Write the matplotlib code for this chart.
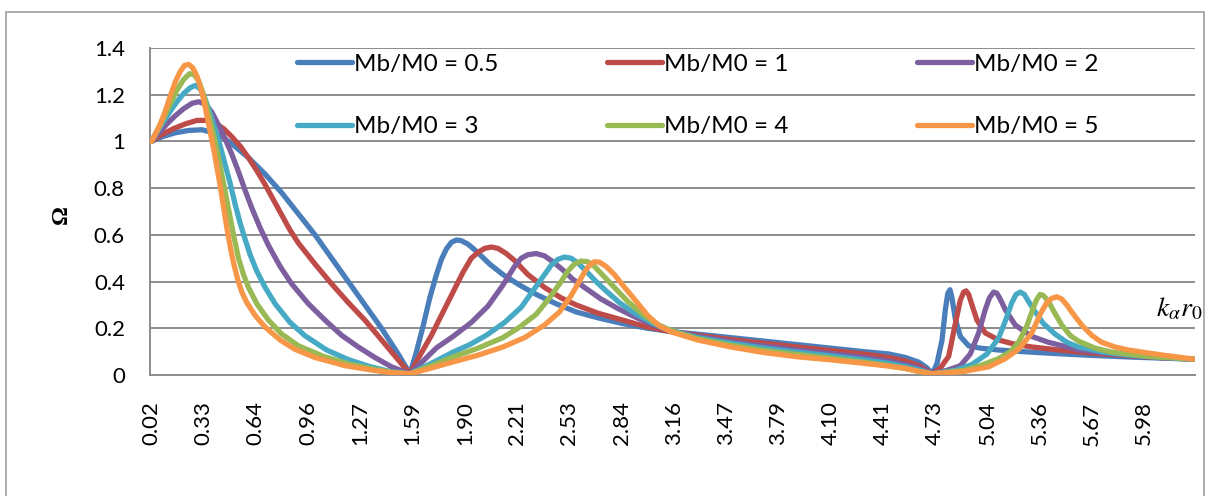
import numpy as np
import matplotlib
matplotlib.use("Agg")
import matplotlib.pyplot as plt
from matplotlib.lines import Line2D
from matplotlib.patches import Rectangle

# ---- data: Omega versus k_alpha * r0 for several mass ratios ----
x_05 = [0.016, 0.08, 0.16, 0.24, 0.32, 0.40, 0.45, 0.50, 0.55, 0.60, 0.65, 0.70, 0.80, 0.90, 1.00, 1.10, 1.20, 1.30, 1.40, 1.50, 1.571,
        1.61, 1.65, 1.69, 1.73, 1.76, 1.79, 1.82, 1.85, 1.88, 1.92, 1.97, 2.05, 2.13, 2.23, 2.33, 2.45, 2.57, 2.70, 2.85, 3.00, 3.14,
        3.30, 3.50, 3.70, 3.90, 4.10, 4.30, 4.45, 4.55, 4.63, 4.68, 4.712,
        4.74, 4.77, 4.79, 4.805, 4.818, 4.83, 4.85, 4.88, 4.93, 5.00, 5.11, 5.30, 5.50, 5.70, 5.90, 6.10, 6.283]
y_05 = [1.00, 1.02, 1.037, 1.047, 1.05, 1.035, 1.015, 0.99, 0.96, 0.93, 0.895, 0.86, 0.78, 0.69, 0.60, 0.50, 0.40, 0.30, 0.20, 0.09, 0.005,
        0.10, 0.21, 0.33, 0.43, 0.495, 0.54, 0.568, 0.578, 0.575, 0.56, 0.53, 0.475, 0.43, 0.385, 0.345, 0.305, 0.27, 0.245, 0.22, 0.20, 0.186,
        0.175, 0.16, 0.145, 0.13, 0.115, 0.10, 0.09, 0.075, 0.055, 0.03, 0.005,
        0.05, 0.15, 0.28, 0.35, 0.365, 0.33, 0.24, 0.165, 0.125, 0.115, 0.107, 0.098, 0.09, 0.083, 0.077, 0.072, 0.068]

x_1 = [0.016, 0.08, 0.15, 0.22, 0.29, 0.35, 0.40, 0.45, 0.50, 0.55, 0.60, 0.65, 0.70, 0.75, 0.80, 0.85, 0.90, 1.00, 1.10, 1.20, 1.30, 1.40, 1.50, 1.571,
       1.62, 1.70, 1.77, 1.83, 1.89, 1.94, 1.98, 2.02, 2.06, 2.10, 2.15, 2.20, 2.28, 2.38, 2.48, 2.57, 2.70, 2.85, 3.00, 3.14,
       3.30, 3.50, 3.70, 3.90, 4.10, 4.30, 4.45, 4.55, 4.63, 4.712,
       4.76, 4.81, 4.85, 4.88, 4.90, 4.915, 4.93, 4.95, 4.98, 5.03, 5.11, 5.20, 5.31, 5.50, 5.70, 5.90, 6.10, 6.283]
y_1 = [1.00, 1.03, 1.055, 1.075, 1.09, 1.09, 1.078, 1.055, 1.02, 0.98, 0.93, 0.875, 0.815, 0.75, 0.685, 0.62, 0.565, 0.475, 0.39, 0.31, 0.235, 0.15, 0.065, 0.005,
       0.07, 0.17, 0.27, 0.355, 0.44, 0.50, 0.525, 0.542, 0.548, 0.542, 0.52, 0.49, 0.43, 0.375, 0.33, 0.30, 0.265, 0.235, 0.205, 0.186,
       0.17, 0.152, 0.136, 0.12, 0.105, 0.09, 0.075, 0.06, 0.04, 0.005,
       0.03, 0.08, 0.22, 0.32, 0.355, 0.36, 0.345, 0.30, 0.235, 0.18, 0.15, 0.133, 0.12, 0.105, 0.092, 0.082, 0.074, 0.068]

x_2 = [0.016, 0.06, 0.11, 0.16, 0.21, 0.26, 0.30, 0.34, 0.38, 0.42, 0.46, 0.50, 0.54, 0.58, 0.62, 0.67, 0.72, 0.79, 0.86, 0.96, 1.06, 1.16, 1.26, 1.36, 1.46, 1.571,
       1.65, 1.73, 1.83, 1.94, 2.04, 2.13, 2.20, 2.24, 2.28, 2.33, 2.38, 2.43, 2.49, 2.55, 2.63, 2.72, 2.82, 2.92, 3.03, 3.14,
       3.30, 3.50, 3.70, 3.90, 4.10, 4.30, 4.45, 4.55, 4.63, 4.712,
       4.80, 4.88, 4.94, 4.99, 5.03, 5.055, 5.08, 5.10, 5.12, 5.15, 5.21, 5.31, 5.41, 5.59, 5.80, 6.00, 6.283]
y_2 = [1.00, 1.035, 1.075, 1.11, 1.14, 1.163, 1.17, 1.16, 1.125, 1.07, 1.01, 0.945, 0.87, 0.79, 0.715, 0.63, 0.555, 0.465, 0.39, 0.305, 0.235, 0.17, 0.12, 0.075, 0.035, 0.005,
       0.06, 0.116, 0.165, 0.225, 0.295, 0.385, 0.465, 0.50, 0.515, 0.52, 0.51, 0.485, 0.45, 0.41, 0.37, 0.325, 0.285, 0.25, 0.215, 0.188,
       0.165, 0.143, 0.124, 0.107, 0.092, 0.075, 0.06, 0.045, 0.03, 0.005,
       0.02, 0.04, 0.09, 0.18, 0.28, 0.33, 0.355, 0.35, 0.325, 0.28, 0.214, 0.165, 0.14, 0.108, 0.09, 0.078, 0.068]

x_3 = [0.016, 0.05, 0.09, 0.13, 0.17, 0.21, 0.25, 0.28, 0.31, 0.34, 0.37, 0.40, 0.43, 0.46, 0.49, 0.52, 0.55, 0.58, 0.61, 0.65, 0.70, 0.76, 0.85, 0.94, 1.07, 1.20, 1.33, 1.45, 1.571,
       1.70, 1.83, 1.93, 2.03, 2.14, 2.24, 2.31, 2.38, 2.42, 2.46, 2.50, 2.54, 2.58, 2.63, 2.69, 2.75, 2.83, 2.92, 3.03, 3.14,
       3.30, 3.50, 3.70, 3.90, 4.10, 4.30, 4.45, 4.55, 4.63, 4.712,
       4.85, 4.95, 5.04, 5.11, 5.15, 5.19, 5.215, 5.24, 5.265, 5.29, 5.33, 5.38, 5.45, 5.52, 5.59, 5.75, 5.90, 6.10, 6.283]
y_3 = [1.00, 1.04, 1.085, 1.13, 1.17, 1.205, 1.23, 1.24, 1.225, 1.18, 1.12, 1.05, 0.98, 0.90, 0.82, 0.73, 0.65, 0.58, 0.515, 0.445, 0.375, 0.305, 0.225, 0.168, 0.107, 0.066, 0.036, 0.015, 0.005,
       0.05, 0.098, 0.13, 0.17, 0.225, 0.29, 0.36, 0.43, 0.47, 0.495, 0.505, 0.50, 0.48, 0.445, 0.40, 0.36, 0.31, 0.265, 0.222, 0.19,
       0.16, 0.136, 0.115, 0.098, 0.082, 0.065, 0.05, 0.036, 0.022, 0.005,
       0.02, 0.045, 0.09, 0.158, 0.23, 0.31, 0.345, 0.355, 0.345, 0.315, 0.27, 0.22, 0.175, 0.14, 0.12, 0.097, 0.085, 0.075, 0.068]

x_4 = [0.016, 0.05, 0.09, 0.13, 0.17, 0.21, 0.245, 0.275, 0.30, 0.33, 0.36, 0.39, 0.42, 0.45, 0.48, 0.51, 0.54, 0.57, 0.60, 0.65, 0.72, 0.80, 0.90, 1.05, 1.20, 1.35, 1.46, 1.571,
       1.70, 1.83, 1.98, 2.13, 2.23, 2.33, 2.41, 2.48, 2.52, 2.56, 2.60, 2.64, 2.68, 2.72, 2.80, 2.88, 2.97, 3.05, 3.14,
       3.30, 3.50, 3.70, 3.90, 4.10, 4.30, 4.45, 4.55, 4.63, 4.712,
       4.90, 5.00, 5.11, 5.18, 5.23, 5.28, 5.32, 5.34, 5.36, 5.38, 5.41, 5.44, 5.49, 5.54, 5.59, 5.69, 5.79, 6.00, 6.283]
y_4 = [1.00, 1.045, 1.10, 1.16, 1.22, 1.265, 1.29, 1.285, 1.26, 1.20, 1.12, 1.03, 0.93, 0.82, 0.71, 0.60, 0.50, 0.43, 0.375, 0.305, 0.235, 0.175, 0.125, 0.08, 0.048, 0.025, 0.012, 0.005,
       0.04, 0.077, 0.115, 0.16, 0.205, 0.26, 0.33, 0.40, 0.445, 0.475, 0.488, 0.485, 0.465, 0.435, 0.375, 0.315, 0.26, 0.22, 0.19,
       0.155, 0.128, 0.105, 0.088, 0.072, 0.055, 0.04, 0.028, 0.015, 0.005,
       0.02, 0.04, 0.07, 0.10, 0.14, 0.21, 0.29, 0.325, 0.345, 0.34, 0.315, 0.275, 0.214, 0.17, 0.145, 0.115, 0.098, 0.08, 0.068]

x_5 = [0.016, 0.04, 0.07, 0.10, 0.13, 0.16, 0.19, 0.215, 0.24, 0.265, 0.29, 0.31, 0.33, 0.35, 0.37, 0.39, 0.41, 0.43, 0.45, 0.47, 0.49, 0.51, 0.535, 0.56, 0.59, 0.64, 0.70, 0.79, 0.88, 1.00, 1.18, 1.35, 1.46, 1.571,
       1.70, 1.83, 1.98, 2.13, 2.26, 2.38, 2.47, 2.54, 2.58, 2.62, 2.65, 2.68, 2.71, 2.75, 2.80, 2.85, 2.92, 3.00, 3.07, 3.14,
       3.30, 3.50, 3.70, 3.90, 4.10, 4.30, 4.45, 4.55, 4.63, 4.712,
       4.90, 5.05, 5.15, 5.23, 5.31, 5.36, 5.40, 5.43, 5.46, 5.49, 5.52, 5.56, 5.61, 5.67, 5.73, 5.81, 5.89, 6.00, 6.10, 6.283]
y_5 = [1.00, 1.03, 1.075, 1.13, 1.195, 1.255, 1.30, 1.325, 1.33, 1.315, 1.28, 1.235, 1.18, 1.11, 1.04, 0.97, 0.89, 0.81, 0.72, 0.63, 0.55, 0.48, 0.41, 0.355, 0.31, 0.255, 0.205, 0.15, 0.11, 0.075, 0.04, 0.02, 0.01, 0.005,
       0.03, 0.056, 0.085, 0.12, 0.16, 0.214, 0.27, 0.34, 0.39, 0.44, 0.47, 0.485, 0.483, 0.465, 0.43, 0.385, 0.325, 0.255, 0.21, 0.185,
       0.15, 0.12, 0.096, 0.078, 0.065, 0.05, 0.038, 0.028, 0.016, 0.005,
       0.015, 0.035, 0.07, 0.11, 0.18, 0.26, 0.31, 0.328, 0.335, 0.325, 0.30, 0.26, 0.214, 0.17, 0.14, 0.12, 0.107, 0.095, 0.085, 0.068]

series_x = [x_05, x_1, x_2, x_3, x_4, x_5]
series_y = [y_05, y_1, y_2, y_3, y_4, y_5]
labels = ["Mb/M0 = 0.5", "Mb/M0 = 1", "Mb/M0 = 2",
          "Mb/M0 = 3", "Mb/M0 = 4", "Mb/M0 = 5"]
colors = ["#4A7EBB", "#BE4B48", "#7D5FA0", "#46AAC4", "#98B954", "#F79646"]

x_tick_labels = ["0.02", "0.33", "0.64", "0.96", "1.27", "1.59", "1.90", "2.21", "2.53", "2.84",
                 "3.16", "3.47", "3.79", "4.10", "4.41", "4.73", "5.04", "5.36", "5.67", "5.98"]
y_ticks = [0, 0.2, 0.4, 0.6, 0.8, 1.0, 1.2, 1.4]
y_tick_labels = ["0", "0.2", "0.4", "0.6", "0.8", "1", "1.2", "1.4"]

# ---- figure ----
W, H = 1209, 496
plt.rcParams["font.family"] = ["Lato", "DejaVu Sans"]
fig = plt.figure(figsize=(W / 100, H / 100), dpi=100)
ax = fig.add_axes([150 / W, 1 - 375 / H, 1045 / W, 327 / H])

step = np.pi / 200          # category spacing on the horizontal axis
ax.set_xlim(0.5 * step, 400.5 * step)
ax.set_ylim(0, 1.4)

LW = 3.8
lines = []
for xs, ys, lab, col in zip(series_x, series_y, labels, colors):
    ln, = ax.plot(xs, ys, color=col, lw=LW, label=lab,
                  solid_joinstyle="round", solid_capstyle="round", zorder=3)
    lines.append(ln)

grid_col = "#8C8C8C"
ax.set_yticks(y_ticks)
ax.set_yticklabels(y_tick_labels, fontsize=16)
ax.yaxis.grid(True, color=grid_col, lw=1.4)
ax.set_axisbelow(True)

tick_pos = [step * (1 + 20 * i) for i in range(len(x_tick_labels))]
ax.set_xticks(tick_pos)
ax.set_xticklabels(x_tick_labels, rotation=90, fontsize=16)
ax.tick_params(axis="both", length=0)
ax.tick_params(axis="y", pad=18)
ax.tick_params(axis="x", pad=19)

for s in ("top", "right"):
    ax.spines[s].set_visible(False)
for s in ("left", "bottom"):
    ax.spines[s].set_color(grid_col)
    ax.spines[s].set_linewidth(1.4)

# y-axis title
fig.text(61 / W, 1 - 215 / H, "Ω", rotation=90, fontsize=17, fontweight="bold",
         family="Liberation Serif", ha="center", va="center")

# horizontal-axis title at the right end
fig.text(1156 / W, 1 - 316 / H, r"$k_{\alpha}r_{0}$", fontsize=20,
         math_fontfamily="stix", ha="left", va="baseline")

# legend, three columns by two rows
col_x = [297, 607, 917]
row_y = [62, 125]
for i, ln in enumerate(lines):
    cx = col_x[i % 3]
    ry = row_y[i // 3]
    fig.add_artist(Line2D([cx / W, (cx + 55) / W], [1 - ry / H, 1 - ry / H],
                          transform=fig.transFigure, color=ln.get_color(), lw=LW,
                          solid_capstyle="round"))
    fig.text((cx + 57) / W, 1 - ry / H, ln.get_label(), fontsize=17.5,
             ha="left", va="center_baseline")

# outer chart border
fig.add_artist(Rectangle((6 / W, -0.05), 1198 / W, (H - 12) / H + 0.05,
                         transform=fig.transFigure, fill=False,
                         edgecolor="#A6A6A6", lw=1.3))

fig.savefig("out.png", dpi=100)
